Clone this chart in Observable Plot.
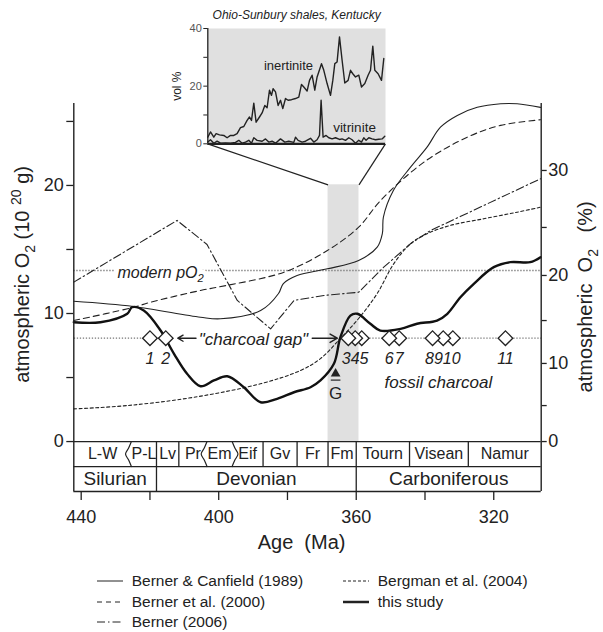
<!DOCTYPE html>
<html><head><meta charset="utf-8">
<script src="https://cdn.jsdelivr.net/npm/d3@7"></script>
<script src="https://cdn.jsdelivr.net/npm/@observablehq/plot@0.6"></script>
<style>
body{margin:0;background:#fff;font-family:"Liberation Sans",Arial,Helvetica,sans-serif;}
#wrap{position:relative;width:603px;height:632px;overflow:hidden;background:#fff;}
#main{position:absolute;left:0;top:0;}
#inset{position:absolute;left:160px;top:0;}
.leg{position:absolute;font-size:15.5px;color:#222;display:flex;align-items:center;white-space:nowrap;height:20px;}
.leg svg{margin-right:9px;}
</style></head><body>
<div id="wrap"><div id="main"></div><div id="inset"></div><div id="legend"></div></div>
<script>
// ---------------- DATA ----------------
// curves: [age (Ma), atmospheric O2 mass (10^20 g)]
const bernerCanfield1989 = [[442.15,10.96],[424.8,10.55],[405.3,9.71],[399.5,9.59],[387.8,10.23],[382.6,11.56],[381.2,12.34],[377.2,12.97],[368.4,13.49],[359.3,14.14],[353.9,15.18],[352.4,16.25],[352.1,17.52],[349.2,19.6],[344.2,21.43],[339.4,22.99],[335.5,24.55],[330.6,25.47],[324.8,26.1],[318.0,26.38],[313.2,26.38],[306.4,26.1]];
const bernerEtAl2000 = [[442.15,9.45],[424.7,10.49],[419.8,10.88],[405.3,11.8],[400.4,12.05],[381.0,13.23],[368.4,14.92],[359.3,16.74],[352.9,18.83],[340.3,21.82],[327.7,23.77],[318.0,24.69],[306.4,25.13]];
const berner2006 = [[442.15,12.45],[412.1,17.27],[403.4,15.39],[394.6,11.02],[384.9,8.8],[378.1,11.02],[369.4,11.41],[359.3,11.66],[352.0,13.62],[344.2,15.45],[338.4,16.48],[306.4,20.52]];
const bergmanEtAl2004 = [[442.15,2.55],[426.6,2.81],[407.2,3.46],[387.9,4.51],[376.2,5.55],[370.4,6.48],[364.6,8.05],[359.3,9.61],[353.9,11.56],[349.1,13.88],[344.2,15.45],[339.4,16.23],[332.6,16.88],[322.9,17.4],[313.2,17.91],[306.4,18.3]];
const thisStudy = [[442.15,9.32],[434.4,9.32],[426.6,9.98],[425.2,10.49],[421.8,10.23],[416.9,8.67],[413.0,6.85],[409.2,5.29],[405.3,4.32],[401.4,4.77],[397.5,5.1],[392.7,4.24],[387.8,3.07],[383.0,3.34],[378.1,3.85],[373.3,4.24],[370.4,4.77],[366.5,6.07],[364.6,8.15],[361.7,9.84],[359.7,9.98],[355.9,9.2],[353.0,8.67],[347.1,8.8],[342.3,9.2],[336.5,9.45],[333.5,9.98],[329.7,11.27],[325.8,12.32],[320.0,13.62],[315.2,14.01],[309.4,14.01],[306.4,14.4]];

const modernPO2 = 13.36;
const charcoalLevel = 8.07;
const charcoalAges = [420.0,415.4,362.3,360.3,358.4,350.4,347.5,337.8,334.7,331.9,316.6];
const charcoalLabels = ["1","2","3","4","5","6","7","8","9","10","11"];
const charcoalLabelGroups = [[0],[1],[2,3,4],[5],[6],[7,8,9],[10]];
const gapBand = [{start:368.2, end:359.2, top:20.05}];
const gMarkerAge = 366.0;

const stages = [
  {name:"L-W", start:443.7, end:425.4},{name:"P-L", start:425.4, end:418.1},
  {name:"Lv", start:418.1, end:411.6},{name:"Pr", start:411.6, end:403.4},
  {name:"Em", start:403.4, end:396.1},{name:"Eif", start:396.1, end:387.1},
  {name:"Gv", start:387.1, end:377.2},{name:"Fr", start:377.2, end:368.2},
  {name:"Fm", start:368.2, end:360.0},{name:"Tourn", start:360.0, end:344.5},
  {name:"Visean", start:344.5, end:327.4},{name:"Namur", start:327.4, end:306.2}
];
const periods = [
  {name:"Silurian", start:443.7, end:418.1},
  {name:"Devonian", start:418.1, end:360.0},
  {name:"Carboniferous", start:360.0, end:306.2}
];
const wavyBounds = [{age:425.4, bulge:1},{age:403.4, bulge:1},{age:396.1, bulge:-1}];

const xTicks = [440,420,400,380,360,340,320];
const xTickLabels = [440,400,360,320];
const leftTicks = [0,5,10,15,20,25];
const leftTickLabels = [0,10,20];
const rightTickPct = [0,5,10,15,20,25,30];
const rightTickMass = [0,2.81,6.1,9.45,12.97,16.72,21.17];
const rightTickLabels = [0,10,20,30];

// inset: [position in section, vol %]
const inertinite = [[0,2.3],[2.7,4.1],[6,2.3],[8.3,3.5],[11.7,3.1],[16,2.9],[19.3,2.1],[22.7,2.9],[26,2.9],[29.3,3.5],[32.7,5.6],[36,6.0],[39.3,8.1],[41.7,9.3],[43.7,8.1],[46,14.1],[48.3,7.5],[51.7,9.3],[54.3,10.7],[57,13.3],[59.3,12.5],[61.7,18.6],[63.7,16.8],[65.3,19.1],[67.7,18.0],[70.3,13.3],[72.7,15.1],[75,12.2],[77.7,15.7],[80.3,15.1],[83.7,15.3],[87.7,15.7],[91,16.2],[93.7,20.6],[96,19.7],[99.3,18.3],[101.7,22.0],[104.3,23.8],[107,18.6],[109.3,23.2],[113.7,27.8],[116,25.5],[119.3,20.9],[122.7,16.8],[125,22.0],[127,27.8],[129.3,28.4],[131.7,37.1],[134.3,29.0],[137,21.1],[140.3,22.0],[142.7,25.5],[145,24.3],[147.7,23.2],[151,23.8],[153.7,19.7],[157,20.9],[160.3,23.8],[162.7,25.5],[165,33.9],[167,25.5],[170.3,24.3],[173.7,22.0],[176,29.6]];
const vitrinite = [[0,0.6],[2.7,1.4],[6,0.2],[9.3,0.9],[12.7,0.2],[17.7,0.3],[22.7,0.2],[27.7,0.5],[31,1.2],[34.3,0.2],[37.7,0.6],[41,1.2],[43.7,0.2],[46,2.1],[49.3,1.2],[54.3,0.9],[57.7,1.7],[61,0.6],[64.3,0.9],[67.7,0.2],[72.7,1.7],[77,0.6],[81,0.9],[86,0.5],[87.7,2.3],[90.3,1.2],[94.3,0.6],[97.7,0.9],[102.7,1.9],[106,0.6],[109.3,1.4],[111.7,2.9],[113.3,15.1],[115.3,2.3],[118.3,2.9],[121,2.1],[124.3,1.7],[127.7,2.1],[131.7,1.5],[134.3,1.7],[137.7,1.2],[141,2.1],[144.3,1.4],[147.7,0.2],[151,1.2],[153.7,0.6],[156,2.1],[158.3,1.2],[161,2.1],[164.3,1.7],[167.7,1.4],[171,1.6],[174.3,1.7],[177,2.6]];
const insetTicks = [0,10,20,30,40];
const insetTickLabels = [0,20,40];

const legendItems = [
  {label:"Berner & Canfield (1989)", dash:null, w:1},
  {label:"Berner et al. (2000)", dash:"5,4", w:1},
  {label:"Berner (2006)", dash:"8,3,1.5,3", w:1},
  {label:"Bergman et al. (2004)", dash:"3,2", w:1},
  {label:"this study", dash:null, w:2.5}
];

// ---------------- LAYOUT ----------------
const FONT = '"Liberation Sans", Arial, Helvetica, sans-serif';
const INK = "#222";
const xDom = [442.15, 306.2];
const yDom = [-3.9, 26.4];
const rowA = -1.95, rowB = -3.9;
const clampAge = a => Math.min(a, xDom[0]);
const X = d => d[0], Y = d => d[1];

const charcoalSegments = [
  {a: xDom[0], b: charcoalAges[1]},
  {a: charcoalAges[2], b: xDom[1]}
];
const charcoalGroupLabels = charcoalLabelGroups.map(g => ({
  age: d3.mean(g, i => charcoalAges[i]),
  text: g.map(i => charcoalLabels[i]).join("")
}));
const insetLinks = [
  {x1: gapBand[0].start, y1: gapBand[0].top, x2: 403.2, y2: 23.25},
  {x1: gapBand[0].end, y1: gapBand[0].top, x2: 351.5, y2: 23.25}
];
const stageBounds = stages.slice(0,-1).map(s => s.end).filter(a => !wavyBounds.some(w => w.age === a));
const periodBounds = periods.slice(0,-1).map(p => p.end);
const wavyPts = wavyBounds.flatMap((w,i) => [0,0.45,1,0.45,0].map((k,j) => ({i, x: w.age + w.bulge*1.7*k, y: rowA*j/4})));
const rightLabelMap = new Map(rightTickMass.map((m,i) => [m, rightTickLabels.includes(rightTickPct[i]) ? String(rightTickPct[i]) : ""]));

const dotted = {stroke:"#777", strokeDasharray:"1.3,1.7", strokeWidth:1.3};
const modernLabel = {x:416.9, y:13.2, text:d=>d, fontStyle:"italic", fontSize:16};

const main = Plot.plot({
  width: 603, height: 555,
  marginLeft: 73.3, marginRight: 62.3, marginTop: 103, marginBottom: 64,
  x: {domain: xDom, axis: null},
  y: {domain: yDom, axis: null},
  style: {fontFamily: FONT, color: INK, background: "transparent", overflow: "visible"},
  marks: [
    Plot.rect(gapBand, {x1:"start", x2:"end", y1:0, y2:"top", fill:"#e0e0e0"}),
    Plot.link(insetLinks, {x1:"x1", y1:"y1", x2:"x2", y2:"y2", stroke:INK, strokeWidth:1.2}),
    Plot.ruleY([modernPO2], {x1:xDom[0], x2:xDom[1], ...dotted}),
    Plot.link(charcoalSegments, {x1:"a", x2:"b", y1:charcoalLevel, y2:charcoalLevel, ...dotted}),
    Plot.text(["modern pO_{2}"], {...modernLabel, fill:"white", stroke:"white", strokeWidth:9}),
    Plot.text(["modern pO_{2}"], {...modernLabel, fill:INK}),
    // curves
    Plot.line(bergmanEtAl2004, {x:X, y:Y, stroke:INK, strokeWidth:1.1, strokeDasharray:"3,2.5", curve:"catmull-rom"}),
    Plot.line(berner2006, {x:X, y:Y, stroke:INK, strokeWidth:1.1, strokeDasharray:"8,3,1.5,3"}),
    Plot.line(bernerEtAl2000, {x:X, y:Y, stroke:INK, strokeWidth:1.1, strokeDasharray:"6,4", curve:"catmull-rom"}),
    Plot.line(bernerCanfield1989, {x:X, y:Y, stroke:INK, strokeWidth:1.1, curve:"catmull-rom"}),
    Plot.line(thisStudy, {x:X, y:Y, stroke:"#111", strokeWidth:2.4, curve:"catmull-rom"}),
    // charcoal occurrences
    Plot.dot(charcoalAges.slice().reverse(), {x:d=>d, y:charcoalLevel, symbol:"diamond2", r:6.6, fill:"white", stroke:INK, strokeWidth:1.3}),
    Plot.text(charcoalGroupLabels, {x:"age", y:6.45, text:"text", fontStyle:"italic", fontSize:16, fill:INK}),
    Plot.arrow([{a:406.6, b:411.9},{a:372.8, b:365.5}], {x1:"a", x2:"b", y1:charcoalLevel, y2:charcoalLevel, stroke:INK, strokeWidth:1.4, headLength:9}),
    Plot.text(["\"charcoal gap\""], {x:389.9, y:7.95, text:d=>d, fontStyle:"italic", fontSize:17, fill:INK}),
    Plot.text(["fossil charcoal"], {x:336.1, y:4.64, text:d=>d, fontStyle:"italic", fontSize:17, fill:INK}),
    Plot.dot([gMarkerAge], {x:d=>d, y:5.3, symbol:"triangle", r:3.6, fill:INK}),
    Plot.link([gMarkerAge], {x1:d=>d+1.4, x2:d=>d-1.4, y1:4.8, y2:4.8, stroke:INK, strokeWidth:1.2}),
    Plot.text(["G"], {x:gMarkerAge, y:3.72, text:d=>d, fontSize:17, fill:INK}),
    // time scale boxes
    Plot.ruleY([0, rowA, rowB], {stroke:INK, strokeWidth:1.3}),
    Plot.ruleX(stageBounds, {y1:0, y2:rowA, stroke:INK, strokeWidth:1.3}),
    Plot.ruleX(periodBounds, {y1:rowA, y2:rowB, stroke:INK, strokeWidth:1.3}),
    Plot.line(wavyPts, {x:"x", y:"y", z:"i", stroke:INK, strokeWidth:1.2, curve:"catmull-rom"}),
    Plot.text(stages, {x:d=>(clampAge(d.start)+d.end)/2, y:rowA/2, text:"name", fontSize:16, fill:INK}),
    Plot.text(periods, {x:d=>(clampAge(d.start)+d.end)/2, y:(rowA+rowB)/2, text:"name", fontSize:19, fill:INK}),
    // axes
    Plot.ruleX([xDom[0], xDom[1]], {y1:rowB, y2:yDom[1], stroke:INK, strokeWidth:1.4}),
    Plot.axisY(leftTicks, {anchor:"left", tickSize:7, tickPadding:3, fontSize:18, strokeWidth:1.3, label:null, tickFormat:d=>leftTickLabels.includes(d)?String(d):""}),
    Plot.axisY(rightTickMass, {anchor:"right", tickSize:5, tickPadding:2, fontSize:18, strokeWidth:1.3, label:null, tickFormat:d=>rightLabelMap.get(d)}),
    Plot.axisX(xTicks, {anchor:"bottom", tickSize:9, tickPadding:10, fontSize:18, strokeWidth:1.3, label:null, tickFormat:d=>xTickLabels.includes(d)?String(d):""}),
    Plot.text(["Age  (Ma)"], {x:375.9, frameAnchor:"bottom", dy:51, lineAnchor:"middle", textAnchor:"middle", text:d=>d, fontSize:20, fill:INK}),
    Plot.text(["atmospheric O_{2} (10 ^{20} g)"], {y:13.05, frameAnchor:"left", dx:-51, rotate:-90, textAnchor:"middle", lineAnchor:"middle", text:d=>d, fontSize:20, fill:INK}),
    Plot.text(["atmospheric  O_{2}   (%)"], {y:11.3, frameAnchor:"right", dx:44, rotate:-90, textAnchor:"middle", lineAnchor:"middle", text:d=>d, fontSize:20, fill:INK})
  ]
});
document.getElementById("main").appendChild(main);

const inset = Plot.plot({
  width: 235, height: 150,
  marginLeft: 47.3, marginRight: 10, marginTop: 28, marginBottom: 6.7,
  x: {domain:[0,177.7], axis:null},
  y: {domain:[0,40], axis:null},
  style: {fontFamily: FONT, color: INK, background:"transparent", overflow:"visible"},
  marks: [
    Plot.frame({fill:"#e0e0e0", stroke:"none"}),
    Plot.line(inertinite, {x:X, y:Y, stroke:INK, strokeWidth:1.4}),
    Plot.line(vitrinite, {x:X, y:Y, stroke:INK, strokeWidth:1.4}),
    Plot.ruleX([0], {stroke:INK, strokeWidth:1.3}),
    Plot.ruleY([0], {stroke:INK, strokeWidth:2.2}),
    Plot.axisY(insetTicks, {anchor:"left", tickSize:4, tickPadding:2, fontSize:11, fill:"#555", label:null, tickFormat:d=>insetTickLabels.includes(d)?String(d):""}),
    Plot.text(["inertinite"], {x:80.7, y:26.9, text:d=>d, fontSize:13, fill:INK}),
    Plot.text(["vitrinite"], {x:146.7, y:5.6, text:d=>d, fontSize:13.5, fill:INK}),
    Plot.text(["Ohio-Sunbury shales, Kentucky"], {frameAnchor:"top", dy:-13, lineAnchor:"middle", textAnchor:"middle", text:d=>d, fontSize:12, fontStyle:"italic", fill:INK}),
    Plot.text(["vol %"], {frameAnchor:"left", dx:-31, rotate:-90, textAnchor:"middle", lineAnchor:"middle", text:d=>d, fontSize:12, fill:INK})
  ]
});
document.getElementById("inset").appendChild(inset);

// rich text: _{..} subscript, ^{..} superscript
function richify(svg) {
  d3.select(svg).selectAll("text").each(function() {
    const s = this.textContent;
    if (!/[_^]\{/.test(s)) return;
    const fs = parseFloat(getComputedStyle(this).fontSize) || 16;
    const el = d3.select(this);
    el.text(null);
    s.split(/(_\{[^}]*\}|\^\{[^}]*\})/).forEach(part => {
      if (!part) return;
      if (part.startsWith("_{")) el.append("tspan").attr("baseline-shift", -0.28*fs).attr("font-size", fs*0.7).text(part.slice(2,-1));
      else if (part.startsWith("^{")) el.append("tspan").attr("baseline-shift", 0.42*fs).attr("font-size", fs*0.7).text(part.slice(2,-1));
      else el.append("tspan").text(part);
    });
  });
}
richify(main);

// legend
const legPos = [[96.7,581],[96.7,601.7],[96.7,621.7],[342.7,581],[342.7,601.7]];
const legend = document.getElementById("legend");
legendItems.forEach((it,i) => {
  const div = document.createElement("div");
  div.className = "leg";
  div.style.left = legPos[i][0] + "px";
  div.style.top = (legPos[i][1]-10) + "px";
  div.innerHTML = `<svg width="26" height="6"><line x1="0" x2="26" y1="3" y2="3" stroke="${INK}" stroke-width="${it.w}" ${it.dash?`stroke-dasharray="${it.dash}"`:""}/></svg><span>${it.label}</span>`;
  legend.appendChild(div);
});
</script>
</body></html>
